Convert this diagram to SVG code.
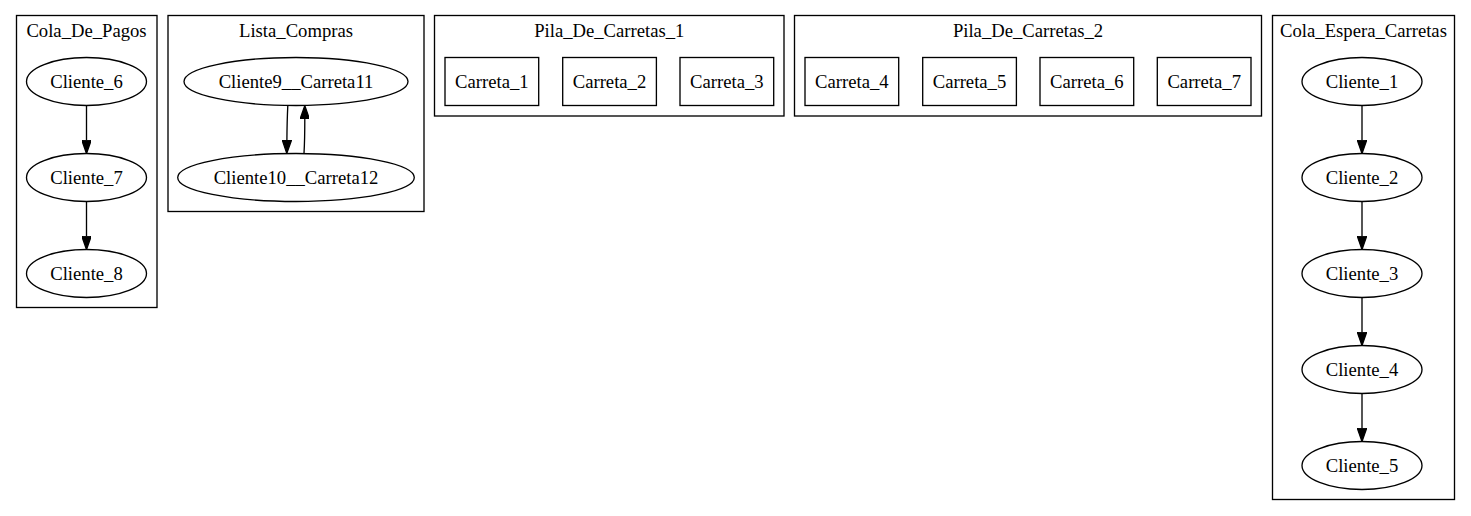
<svg xmlns="http://www.w3.org/2000/svg" width="1471" height="516" viewBox="0 0 1471 516">
<defs>
<marker id="arr" viewBox="0 0 10 7" refX="0" refY="3.5" markerWidth="13.33" markerHeight="9.33" markerUnits="userSpaceOnUse" orient="auto">
<path d="M0,0 L10,3.5 L0,7 z" fill="#000" stroke="#000" stroke-width="1"/>
</marker>
<style>
.cl{fill:none;stroke:#000;stroke-width:1.33}
.nd{fill:none;stroke:#000;stroke-width:1.33}
.t{font-family:"Liberation Serif","Times New Roman",serif;font-size:18.67px;fill:#000;text-anchor:middle}
.e{fill:none;stroke:#000;stroke-width:1.33}
</style>
</defs>
<rect width="1471" height="516" fill="#fff"/>

<g id="cluster_Cola_De_Pagos">
<rect class="cl" x="16.5" y="15.5" width="140.5" height="292"/>
<text class="t" x="86.5" y="37">Cola_De_Pagos</text>
</g>
<g id="cluster_Lista_Compras">
<rect class="cl" x="168" y="15.5" width="256" height="196"/>
<text class="t" x="296" y="37">Lista_Compras</text>
</g>
<g id="cluster_Pila_De_Carretas_1">
<rect class="cl" x="434.5" y="15.5" width="349.5" height="100.5"/>
<text class="t" x="609.3" y="37">Pila_De_Carretas_1</text>
</g>
<g id="cluster_Pila_De_Carretas_2">
<rect class="cl" x="794.5" y="15.5" width="467" height="100.5"/>
<text class="t" x="1028" y="37">Pila_De_Carretas_2</text>
</g>
<g id="cluster_Cola_Espera_Carretas">
<rect class="cl" x="1272.5" y="15.5" width="182" height="484"/>
<text class="t" x="1363.5" y="37">Cola_Espera_Carretas</text>
</g>

<g id="Cliente_6"><ellipse class="nd" cx="86.5" cy="81.5" rx="60" ry="24"/><text class="t" x="86.5" y="87.5">Cliente_6</text></g>
<g id="Cliente_7"><ellipse class="nd" cx="86.5" cy="177.5" rx="60" ry="24"/><text class="t" x="86.5" y="183.5">Cliente_7</text></g>
<g id="Cliente_8"><ellipse class="nd" cx="86.5" cy="273.5" rx="60" ry="24"/><text class="t" x="86.5" y="279.5">Cliente_8</text></g>

<g id="Cliente9__Carreta11"><ellipse class="nd" cx="296" cy="81.5" rx="112" ry="24"/><text class="t" x="296" y="87.5">Cliente9__Carreta11</text></g>
<g id="Cliente10__Carreta12"><ellipse class="nd" cx="296" cy="177.5" rx="118.3" ry="24"/><text class="t" x="296" y="183.5">Cliente10__Carreta12</text></g>

<g id="Carreta_1"><rect class="nd" x="445" y="57.5" width="93.7" height="48"/><text class="t" x="491.8" y="87.5">Carreta_1</text></g>
<g id="Carreta_2"><rect class="nd" x="562.7" y="57.5" width="93.7" height="48"/><text class="t" x="609.5" y="87.5">Carreta_2</text></g>
<g id="Carreta_3"><rect class="nd" x="680" y="57.5" width="93.7" height="48"/><text class="t" x="726.8" y="87.5">Carreta_3</text></g>

<g id="Carreta_4"><rect class="nd" x="805" y="57.5" width="93.7" height="48"/><text class="t" x="851.8" y="87.5">Carreta_4</text></g>
<g id="Carreta_5"><rect class="nd" x="922.7" y="57.5" width="93.7" height="48"/><text class="t" x="969.5" y="87.5">Carreta_5</text></g>
<g id="Carreta_6"><rect class="nd" x="1040" y="57.5" width="93.7" height="48"/><text class="t" x="1086.8" y="87.5">Carreta_6</text></g>
<g id="Carreta_7"><rect class="nd" x="1157.3" y="57.5" width="93.7" height="48"/><text class="t" x="1204.2" y="87.5">Carreta_7</text></g>

<g id="Cliente_1"><ellipse class="nd" cx="1362" cy="81.5" rx="60" ry="24"/><text class="t" x="1362" y="87.5">Cliente_1</text></g>
<g id="Cliente_2"><ellipse class="nd" cx="1362" cy="177.5" rx="60" ry="24"/><text class="t" x="1362" y="183.5">Cliente_2</text></g>
<g id="Cliente_3"><ellipse class="nd" cx="1362" cy="273.5" rx="60" ry="24"/><text class="t" x="1362" y="279.5">Cliente_3</text></g>
<g id="Cliente_4"><ellipse class="nd" cx="1362" cy="369.5" rx="60" ry="24"/><text class="t" x="1362" y="375.5">Cliente_4</text></g>
<g id="Cliente_5"><ellipse class="nd" cx="1362" cy="465.5" rx="60" ry="24"/><text class="t" x="1362" y="471.5">Cliente_5</text></g>

<g id="connectors">
<path class="e" d="M86.5,105.5 L86.5,140.2" marker-end="url(#arr)"/>
<path class="e" d="M86.5,201.5 L86.5,236.2" marker-end="url(#arr)"/>
<path class="e" d="M287.8,105.6 C287.3,116 287,128 286.9,140" marker-end="url(#arr)"/>
<path class="e" d="M304,153.4 C304.6,143 304.8,131 304.8,119" marker-end="url(#arr)"/>
<path class="e" d="M1362,105.5 L1362,140.2" marker-end="url(#arr)"/>
<path class="e" d="M1362,201.5 L1362,236.2" marker-end="url(#arr)"/>
<path class="e" d="M1362,297.5 L1362,332.2" marker-end="url(#arr)"/>
<path class="e" d="M1362,393.5 L1362,428.2" marker-end="url(#arr)"/>
</g>
</svg>
